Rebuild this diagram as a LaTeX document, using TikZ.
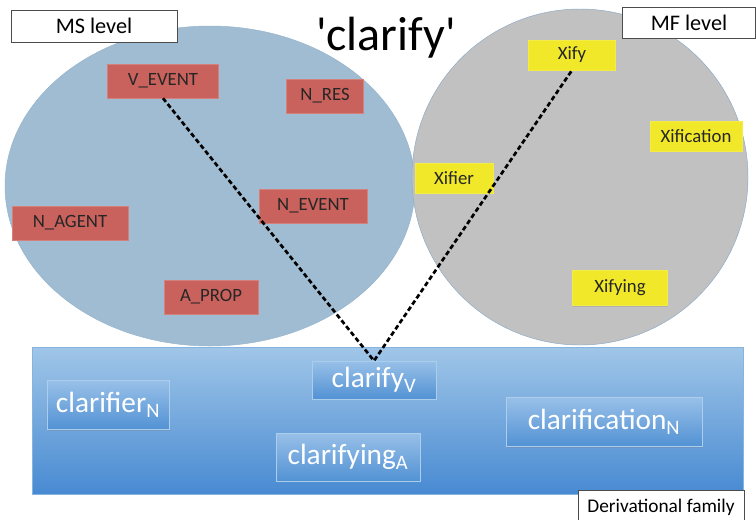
\documentclass[tikz,border=0pt]{standalone}
\usepackage{fontspec}
\setmainfont{Carlito}
\usetikzlibrary{shadows}
\definecolor{msblue}{RGB}{160,188,210}
\definecolor{msedge}{RGB}{150,180,205}
\definecolor{mfgrey}{RGB}{193,193,193}
\definecolor{mfedge}{RGB}{140,170,200}
\definecolor{redbox}{RGB}{201,98,92}
\definecolor{yelbox}{RGB}{240,232,40}
\definecolor{famtop}{RGB}{160,198,232}
\definecolor{fambot}{RGB}{72,138,210}
\definecolor{wordtop}{RGB}{152,192,232}
\definecolor{wordbot}{RGB}{82,146,212}
\tikzset{
  lvl/.style={draw=black!70, fill=white, minimum height=0.96cm, minimum width=4.98cm,
    font=\fontsize{19}{22}\selectfont},
  msbox/.style={fill=redbox, draw=redbox!80!white, minimum height=1.02cm,
    text=black!85, font=\fontsize{16}{19}\selectfont,
    drop shadow={opacity=0.25, shadow xshift=0.6pt, shadow yshift=-0.8pt}},
  mfbox/.style={fill=yelbox, draw=yelbox!85!white, minimum height=0.9cm,
    text=black!85, font=\fontsize{16}{19}\selectfont,
    drop shadow={opacity=0.25, shadow xshift=0.6pt, shadow yshift=-0.8pt}},
  famword/.style={top color=wordtop, bottom color=wordbot, draw=wordtop!80!white,
    text=white, minimum height=1.46cm, font=\fontsize{25}{28}\selectfont,
    drop shadow={opacity=0.3, shadow xshift=0.8pt, shadow yshift=-1pt}},
  link/.style={line width=2.3pt, dash pattern=on 4pt off 2.4pt},
}
\begin{document}
\begin{tikzpicture}[x=0.03cm, y=-0.03cm]
  \useasboundingbox (0,0) rectangle (756,519);
  % the two levels
  \fill[msblue, draw=msedge] (210,186) ellipse [x radius=6.15cm, y radius=4.8cm];
  \fill[mfgrey, draw=mfedge] (580,177) circle [radius=5.04cm];
  \node[lvl] (mslvl) at (94,26) {MS level};
  \node[lvl, minimum width=3.99cm, minimum height=0.93cm] (mflvl) at (689,22.5) {MF level};
  \node[font=\fontsize{41}{48}\selectfont] (title) at (386,38) {\textquotesingle clarify\textquotesingle};
  % derivational family
  \fill[top color=famtop, bottom color=fambot, draw=famtop!70!fambot] (32,347) rectangle (743,494);
  \node[lvl, minimum width=4.98cm, minimum height=0.98cm, font=\fontsize{16.5}{19}\selectfont] (famlvl) at (661,507) {Derivational family};
  % MS features
  \node[msbox, minimum width=3.33cm] (vevent) at (163,81) {V\_EVENT};
  \node[msbox, minimum width=2.31cm] (nres) at (325,96) {N\_RES};
  \node[msbox, minimum width=3.24cm] (nevent) at (313,206) {N\_EVENT};
  \node[msbox, minimum width=3.48cm] (nagent) at (70,223) {N\_AGENT};
  \node[msbox, minimum width=2.82cm] (aprop) at (211,297) {A\_PROP};
  % MF patterns
  \node[mfbox, minimum width=2.61cm] (xify) at (572,55) {Xify};
  \node[mfbox, minimum width=2.76cm] (xification) at (696,136) {Xification};
  \node[mfbox, minimum width=2.34cm] (xifier) at (454,178) {Xifier};
  \node[mfbox, minimum width=2.85cm, minimum height=1.06cm] (xifying) at (620,288) {Xifying};
  % family members
  \node[famword, minimum width=3.72cm, minimum height=1.14cm] (clarV) at (374,380) {clarify\textsubscript{V}};
  \node[famword, minimum width=3.66cm] (clarN) at (108,405) {clarifier\textsubscript{N}};
  \node[famword, minimum width=4.32cm, minimum height=1.44cm] (clarA) at (348,457) {clarifying\textsubscript{A}};
  \node[famword, minimum width=5.88cm] (clarfN) at (604,422) {clarification\textsubscript{N}};
  % links
  \draw[link] (vevent.south) -- (clarV.north) -- (xify.south);
\end{tikzpicture}
\end{document}
